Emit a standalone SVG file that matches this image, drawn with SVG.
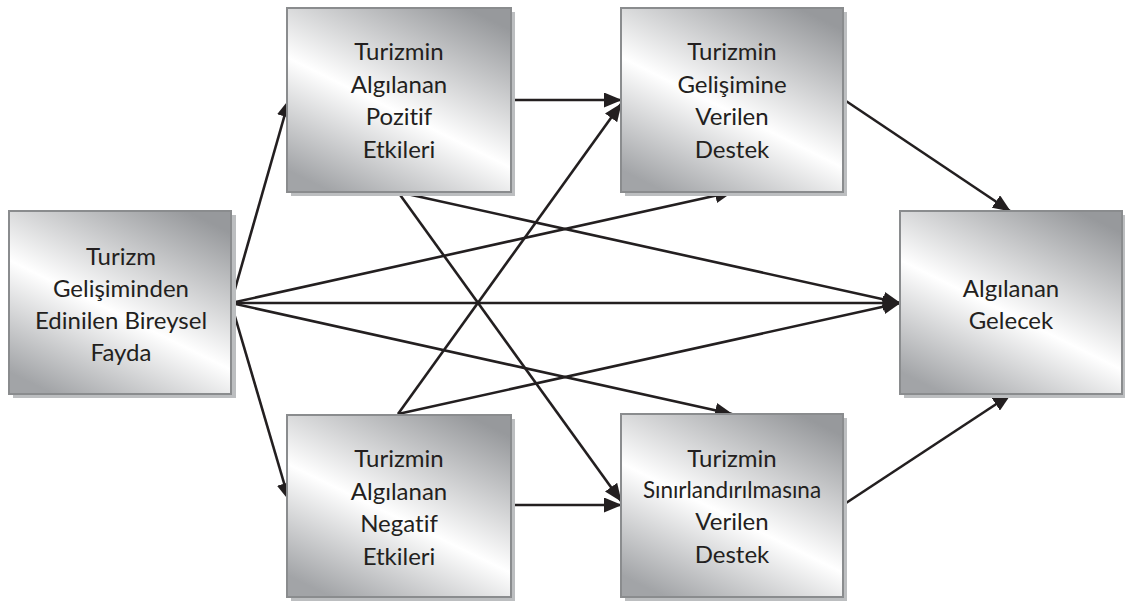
<svg xmlns="http://www.w3.org/2000/svg" width="1125" height="606" viewBox="0 0 1125 606">
  <defs>
    <linearGradient id="boxfill" x1="0.8" y1="0" x2="0.2" y2="1">
      <stop offset="0" stop-color="#97999c"/>
      <stop offset="0.55" stop-color="#ffffff"/>
      <stop offset="1" stop-color="#a2a4a7"/>
    </linearGradient>
    <marker id="arrow" viewBox="0 0 18 15" refX="17" refY="7.5" markerWidth="18" markerHeight="15" markerUnits="userSpaceOnUse" orient="auto">
      <path d="M0,0 L18,7.5 L0,15 z" fill="#231f20"/>
    </marker>
  </defs>
  <style>
    .shadow { fill: #bcbec0; }
    .box { fill: url(#boxfill); stroke: #8a8c8e; stroke-width: 2; }
    .lbl { font-family: Lato, "Open Sans", sans-serif; font-size: 24px; fill: #231f20; text-anchor: middle; font-variant-ligatures: none; font-feature-settings: "liga" 0; }
    .conn line { stroke: #231f20; stroke-width: 2.6; marker-end: url(#arrow); }
  </style>
  <rect width="1125" height="606" fill="#ffffff"/>

  <g id="connectors" class="conn">
    <line x1="231" y1="303" x2="289" y2="100"/>
    <line x1="231" y1="303" x2="289" y2="500"/>
    <line x1="231" y1="303" x2="732" y2="192"/>
    <line x1="231" y1="303" x2="900" y2="303"/>
    <line x1="231" y1="303" x2="732" y2="414"/>
    <line x1="511" y1="100" x2="621" y2="100"/>
    <line x1="398" y1="192" x2="900" y2="303"/>
    <line x1="398" y1="192" x2="621" y2="501"/>
    <line x1="398" y1="414" x2="621" y2="104"/>
    <line x1="398" y1="414" x2="900" y2="303"/>
    <line x1="511" y1="505" x2="621" y2="505"/>
    <line x1="843" y1="99" x2="1010" y2="211"/>
    <line x1="843" y1="505" x2="1010" y2="395"/>
  </g>

  <g id="node-bireysel-fayda">
    <rect class="shadow" x="13" y="215" width="223" height="183"/>
    <rect class="box" x="9" y="211" width="222" height="183"/>
    <text class="lbl" x="121" y="265">Turizm</text>
    <text class="lbl" x="121" y="297">Gelişiminden</text>
    <text class="lbl" x="121" y="329">Edinilen Bireysel</text>
    <text class="lbl" x="121" y="361">Fayda</text>
  </g>

  <g id="node-pozitif-etkiler">
    <rect class="shadow" x="291" y="12" width="224" height="184"/>
    <rect class="box" x="287" y="8" width="224" height="184"/>
    <text class="lbl" x="399" y="60">Turizmin</text>
    <text class="lbl" x="399" y="93">Algılanan</text>
    <text class="lbl" x="399" y="125">Pozitif</text>
    <text class="lbl" x="399" y="158">Etkileri</text>
  </g>

  <g id="node-gelisime-destek">
    <rect class="shadow" x="625" y="12" width="222" height="184"/>
    <rect class="box" x="621" y="8" width="222" height="184"/>
    <text class="lbl" x="732" y="60">Turizmin</text>
    <text class="lbl" x="732" y="93">Gelişimine</text>
    <text class="lbl" x="732" y="125">Verilen</text>
    <text class="lbl" x="732" y="158">Destek</text>
  </g>

  <g id="node-algilanan-gelecek">
    <rect class="shadow" x="904" y="215" width="222" height="183"/>
    <rect class="box" x="900" y="211" width="222" height="183"/>
    <text class="lbl" x="1011" y="297">Algılanan</text>
    <text class="lbl" x="1011" y="329">Gelecek</text>
  </g>

  <g id="node-negatif-etkiler">
    <rect class="shadow" x="291" y="419" width="224" height="182"/>
    <rect class="box" x="287" y="415" width="224" height="182"/>
    <text class="lbl" x="399" y="467">Turizmin</text>
    <text class="lbl" x="399" y="500">Algılanan</text>
    <text class="lbl" x="399" y="532">Negatif</text>
    <text class="lbl" x="399" y="565">Etkileri</text>
  </g>

  <g id="node-sinirlandirma-destek">
    <rect class="shadow" x="625" y="418" width="222" height="183"/>
    <rect class="box" x="621" y="414" width="222" height="183"/>
    <text class="lbl" x="732" y="467">Turizmin</text>
    <text class="lbl" x="732" y="498" style="font-size:22.5px">Sınırlandırılmasına</text>
    <text class="lbl" x="732" y="530">Verilen</text>
    <text class="lbl" x="732" y="563">Destek</text>
  </g>
</svg>
